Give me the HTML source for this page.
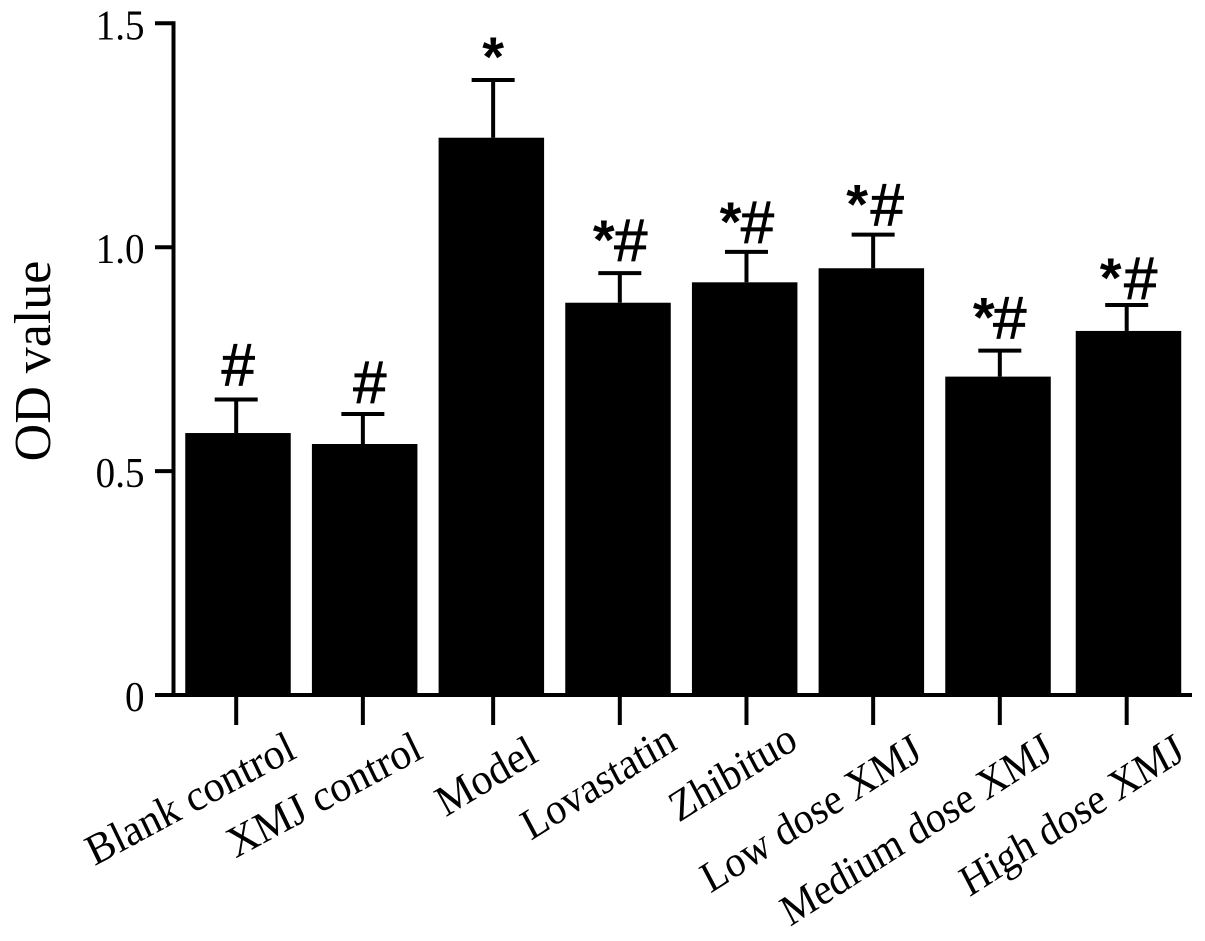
<!DOCTYPE html>
<html>
<head>
<meta charset="utf-8">
<title>OD value bar chart</title>
<style>
html,body{margin:0;padding:0;background:#fff;}
svg{display:block;}
text{fill:#000;font-family:"Liberation Serif",serif;}
</style>
</head>
<body>
<svg id="chart" xmlns="http://www.w3.org/2000/svg" width="1205" height="941" viewBox="0 0 1205 941"></svg>
<script>
const categories = ["Blank control","XMJ control","Model","Lovastatin","Zhibituo","Low dose XMJ","Medium dose XMJ","High dose XMJ"];
const meanValues = [0.585,0.5605,1.2445,0.876,0.9216,0.953,0.711,0.813];
const errorValues = [0.075,0.067,0.129,0.066,0.068,0.075,0.058,0.058];
const significance = ["#","#","*","*#","*#","*#","*#","*#"];
const yTicks = [0,0.5,1.0,1.5];
const yTickLabels = ["0","0.5","1.0","1.5"];

/* Layout tweaks keyed by category name: label end offset, rotation, x-squeeze, # offset, gap above cap */
const layoutTweaks = {
  "Blank control":   {ldx:62, ly:757, rot:-27, sx:0.95, hdx:2,  gap:14},
  "XMJ control":     {ldx:62, ly:757, rot:-27, sx:0.95, hdx:7,  gap:11},
  "Model":           {ldx:47, ly:760, rot:-30, sx:0.95, hdx:0,  gap:2},
  "Lovastatin":      {ldx:59, ly:748, rot:-30, sx:0.92, hdx:11, gap:12},
  "Zhibituo":        {ldx:53, ly:747, rot:-30, sx:0.92, hdx:11, gap:9},
  "Low dose XMJ":    {ldx:51, ly:758, rot:-30, sx:0.91, hdx:14, gap:9},
  "Medium dose XMJ": {ldx:55, ly:757, rot:-30, sx:0.90, hdx:10, gap:12},
  "High dose XMJ":   {ldx:60, ly:758, rot:-30, sx:0.90, hdx:14, gap:6}
};

const svg = document.getElementById('chart');
const NS = 'http://www.w3.org/2000/svg';
const y0 = 695, yPerUnit = 447.8, x0 = 238, xStep = 126.67, barW = 105.5;
function yScale(v){ return y0 - v * yPerUnit; }
function xScale(i){ return x0 + i * xStep + (i === 7 ? 3.8 : 0); }
function stemX(i){ return xScale(i) + ((i < 2 || i === 7) ? -1.8 : 1.8); }
function make(tag, attrs){
  const el = document.createElementNS(NS, tag);
  for (const k in attrs) el.setAttribute(k, attrs[k]);
  svg.appendChild(el);
  return el;
}
function line(x1,y1,x2,y2,w){
  return make('line',{x1:x1,y1:y1,x2:x2,y2:y2,stroke:'#000','stroke-width':w});
}

categories.forEach(function(cat,i){
  const cx = xScale(i);
  const sx = stemX(i);
  const top = yScale(meanValues[i]);
  const errTop = yScale(meanValues[i] + errorValues[i]);
  const tw = layoutTweaks[cat];

  const bar = make('rect',{x:cx-barW/2,y:top,width:barW,height:y0-top,fill:'#000'});
  
  

  const stem = line(sx,top,sx,errTop,4);
  
  

  const cap = line(sx-21.5,errTop,sx+21.5,errTop,4);
  
  

  const tick = line(sx,y0,sx,725,4);
  
  

  const lx = sx + tw.ldx, ly = tw.ly;
  const label = make('text',{x:0,y:0,'font-size':44,'text-anchor':'end',transform:'translate('+lx+' '+ly+') scale('+tw.sx+' 1) rotate('+tw.rot+')'});
  label.textContent = cat;
  
  

  const markY = errTop - tw.gap;
  const marks = significance[i];
  if (marks.indexOf('*') >= 0) {
    const starX = marks.length > 1 ? sx - 16 : sx;
    const star = make('text',{x:starX,y:markY-2,'font-size':56,'font-weight':'bold','text-anchor':'middle'});
    star.style.fontFamily = '"Liberation Sans",sans-serif';
    star.textContent = '*';
    
    
  }
  if (marks.indexOf('#') >= 0) {
    const hash = make('text',{x:sx+tw.hdx,y:markY,'font-size':60,'text-anchor':'middle',stroke:'#000','stroke-width':0.8});
    hash.style.fontFamily = '"Liberation Sans",sans-serif';
    hash.textContent = '#';
    
    
  }
});

const yAxis = line(173.5,21.3,173.5,697,4);



const xAxis = line(155,y0,1192,y0,4);



yTicks.forEach(function(v,i){
  const y = yScale(v);
  const t = line(155,y,173,y,4);
  
  

  const lab = make('text',{x:0,y:0,'font-size':42,'text-anchor':'end',transform:'translate(144.5 '+(y+16)+') scale(0.93 1)'});
  lab.textContent = yTickLabels[i];
  
  
});

const yTitle = make('text',{x:50,y:361,'font-size':52,'text-anchor':'middle',transform:'rotate(-90 50 361)'});
yTitle.textContent = 'OD value';


</script>
</body>
</html>
